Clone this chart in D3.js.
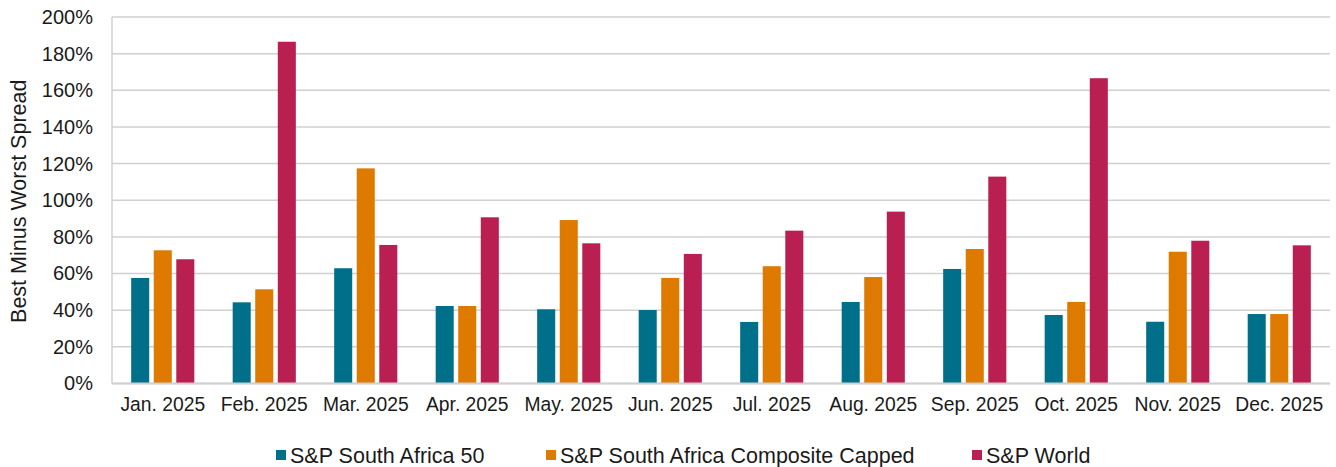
<!DOCTYPE html>
<html>
<head>
<meta charset="utf-8">
<script src="https://cdn.jsdelivr.net/npm/d3@7"></script>
<style>
  html, body { margin: 0; padding: 0; background: #fff; }
  svg { display: block; font-family: "Liberation Sans", Arial, sans-serif; }
</style>
</head>
<body>
<svg id="chart" width="1336" height="467"></svg>
<script>
const months = ["Jan. 2025","Feb. 2025","Mar. 2025","Apr. 2025","May. 2025","Jun. 2025",
                "Jul. 2025","Aug. 2025","Sep. 2025","Oct. 2025","Nov. 2025","Dec. 2025"];
const seriesNames = ["S&P South Africa 50","S&P South Africa Composite Capped","S&P World"];
const sa50      = [57.6, 44.3, 62.9, 42.3, 40.5, 40.1, 33.6, 44.5, 62.5, 37.4, 33.7, 37.9];
const composite = [72.7, 51.4, 117.4, 42.3, 89.2, 57.6, 64.0, 58.1, 73.4, 44.5, 71.9, 37.9];
const world     = [67.8, 186.5, 75.6, 90.7, 76.5, 70.7, 83.4, 93.8, 112.9, 166.6, 77.9, 75.4];
const yTicks    = [0, 20, 40, 60, 80, 100, 120, 140, 160, 180, 200];
const colors    = ["#00708A", "#DE7A00", "#BA1F52"];
const yTitle    = "Best Minus Worst Spread";

const seriesValues = [sa50, composite, world];
const svg = d3.select("#chart");
const plotL = 112, plotR = 1330, plotT = 17, plotB = 383.5;

const y = d3.scaleLinear().domain([0, 200]).range([plotB, plotT]);
const x0 = d3.scaleBand().domain(months).range([plotL, plotR]).paddingInner(1/3).paddingOuter(1/6);
const x1 = d3.scaleBand().domain(seriesNames).range([0, x0.bandwidth()]).paddingInner(0.2).paddingOuter(0.1);
const color = d3.scaleOrdinal().domain(seriesNames).range(colors);

// gridlines
svg.append("g").selectAll("line").data(yTicks).join("line")
  .attr("x1", plotL).attr("x2", plotR)
  .attr("y1", d => y(d)).attr("y2", d => y(d))
  .attr("stroke", "#d0d0d0").attr("stroke-width", 1.5);
// left axis line
svg.append("line").attr("x1", plotL).attr("x2", plotL).attr("y1", y(200)).attr("y2", y(0))
  .attr("stroke", "#d0d0d0").attr("stroke-width", 1.5);

// y axis labels
const yAxis = d3.axisLeft(y).tickValues(yTicks).tickFormat(d => d + "%").tickSize(0).tickPadding(19);
const gy = svg.append("g").attr("transform", `translate(${plotL},0)`).call(yAxis);
gy.select(".domain").remove();
gy.selectAll("text").attr("font-size", 20).attr("fill", "#1a1a1a")
  .attr("font-family", "'Liberation Sans', Arial, sans-serif");

// x axis labels
const xAxis = d3.axisBottom(x0).tickSize(0).tickPadding(14);
const gx = svg.append("g").attr("transform", `translate(0,${plotB})`).call(xAxis);
gx.select(".domain").remove();
gx.selectAll("text").attr("font-size", 19.3).attr("fill", "#1a1a1a")
  .attr("font-family", "'Liberation Sans', Arial, sans-serif");

// bars
const rows = months.map((m, i) => ({ m, vals: seriesNames.map((s, j) => ({ s, v: seriesValues[j][i] })) }));
svg.append("g").selectAll("g").data(rows).join("g")
  .attr("transform", d => `translate(${x0(d.m)},0)`)
  .selectAll("rect").data(d => d.vals).join("rect")
  .attr("x", d => x1(d.s)).attr("width", x1.bandwidth())
  .attr("y", d => y(d.v)).attr("height", d => y(0) - y(d.v))
  .attr("fill", d => color(d.s));

// baseline
svg.append("line").attr("x1", plotL).attr("x2", plotR).attr("y1", y(0)).attr("y2", y(0))
  .attr("stroke", "#d0d0d0").attr("stroke-width", 2);

// y title
svg.append("text").attr("transform", `translate(26,${(plotT + plotB) / 2 + 1}) rotate(-90)`)
  .attr("text-anchor", "middle").attr("font-size", 21.5).attr("fill", "#1a1a1a").text(yTitle);

// legend
const legendX = [276, 546, 972];
const lg = svg.append("g").selectAll("g").data(seriesNames).join("g")
  .attr("transform", (d, i) => `translate(${legendX[i]},455)`);
lg.append("rect").attr("x", 0).attr("y", -5).attr("width", 10).attr("height", 10).attr("fill", d => color(d));
lg.append("text").attr("x", 14).attr("y", 7.5).attr("font-size", 21.5).attr("fill", "#1a1a1a").text(d => d);
</script>
</body>
</html>
